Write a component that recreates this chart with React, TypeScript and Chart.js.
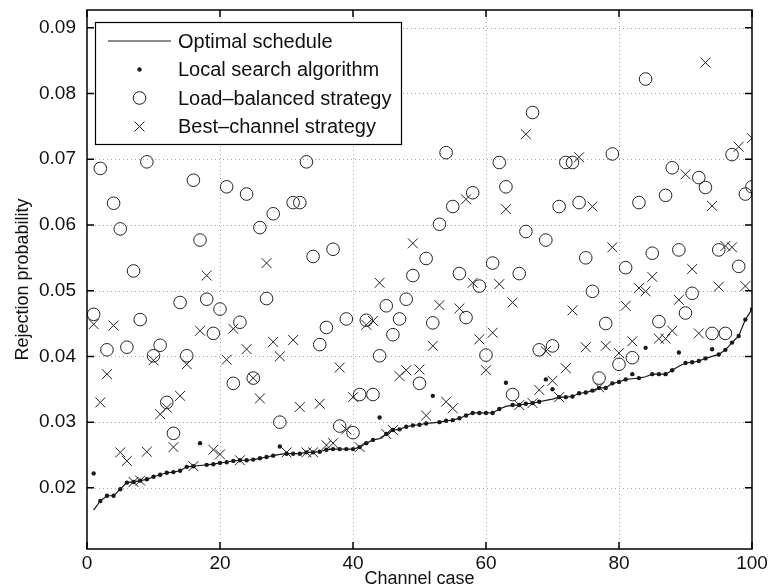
import React, { useEffect, useRef } from 'react';
import { Chart, registerables } from 'chart.js';

Chart.register(...registerables);

const CASES = [
  1, 2, 3, 4, 5, 6, 7, 8, 9, 10, 11, 12, 13, 14, 15, 16, 17, 18, 19, 20,
  21, 22, 23, 24, 25, 26, 27, 28, 29, 30, 31, 32, 33, 34, 35, 36, 37, 38, 39, 40,
  41, 42, 43, 44, 45, 46, 47, 48, 49, 50, 51, 52, 53, 54, 55, 56, 57, 58, 59, 60,
  61, 62, 63, 64, 65, 66, 67, 68, 69, 70, 71, 72, 73, 74, 75, 76, 77, 78, 79, 80,
  81, 82, 83, 84, 85, 86, 87, 88, 89, 90, 91, 92, 93, 94, 95, 96, 97, 98, 99, 100,
];

const OPTIMAL = [
  0.0166, 0.0180, 0.0188, 0.0188, 0.0198, 0.0208, 0.0209, 0.0211, 0.0213, 0.0217,
  0.0220, 0.0223, 0.0224, 0.0226, 0.0232, 0.0233, 0.0234, 0.0235, 0.0236, 0.0238,
  0.0239, 0.0241, 0.0242, 0.0242, 0.0243, 0.0245, 0.0247, 0.0249, 0.0251, 0.0252,
  0.0252, 0.0252, 0.0254, 0.0254, 0.0255, 0.0258, 0.0259, 0.0259, 0.0259, 0.0259,
  0.0262, 0.0268, 0.0273, 0.0275, 0.0282, 0.0288, 0.0289, 0.0293, 0.0295, 0.0296,
  0.0298, 0.0299, 0.0300, 0.0302, 0.0303, 0.0306, 0.0310, 0.0314, 0.0314, 0.0314,
  0.0314, 0.0320, 0.0324, 0.0326, 0.0326, 0.0328, 0.0329, 0.0331, 0.0333, 0.0335,
  0.0338, 0.0338, 0.0339, 0.0344, 0.0345, 0.0348, 0.0352, 0.0352, 0.0359, 0.0361,
  0.0365, 0.0366, 0.0367, 0.0369, 0.0373, 0.0373, 0.0373, 0.0379, 0.0385, 0.0390,
  0.0391, 0.0393, 0.0397, 0.0400, 0.0403, 0.0410, 0.0421, 0.0431, 0.0456, 0.0472,
];

const LOCAL = [
  0.0222, 0.0180, 0.0188, 0.0188, 0.0198, 0.0208, 0.0209, 0.0211, 0.0213, 0.0217,
  0.0220, 0.0223, 0.0224, 0.0226, 0.0232, 0.0233, 0.0268, 0.0235, 0.0236, 0.0238,
  0.0239, 0.0241, 0.0242, 0.0242, 0.0243, 0.0245, 0.0247, 0.0249, 0.0263, 0.0252,
  0.0252, 0.0252, 0.0254, 0.0254, 0.0255, 0.0258, 0.0259, 0.0259, 0.0259, 0.0259,
  0.0262, 0.0268, 0.0273, 0.0307, 0.0282, 0.0288, 0.0289, 0.0293, 0.0295, 0.0296,
  0.0298, 0.0340, 0.0300, 0.0302, 0.0303, 0.0306, 0.0310, 0.0314, 0.0314, 0.0314,
  0.0314, 0.0320, 0.0360, 0.0326, 0.0326, 0.0328, 0.0329, 0.0331, 0.0365, 0.0350,
  0.0338, 0.0338, 0.0339, 0.0344, 0.0345, 0.0348, 0.0352, 0.0352, 0.0359, 0.0361,
  0.0365, 0.0373, 0.0367, 0.0413, 0.0373, 0.0373, 0.0373, 0.0379, 0.0406, 0.0390,
  0.0391, 0.0393, 0.0397, 0.0411, 0.0403, 0.0410, 0.0421, 0.0431, 0.0456, 0.0472,
];

const LOAD_BALANCED = [
  0.0464, 0.0686, 0.0410, 0.0633, 0.0594, 0.0414, 0.0530, 0.0456, 0.0696, 0.0401,
  0.0417, 0.0330, 0.0283, 0.0482, 0.0401, 0.0668, 0.0577, 0.0487, 0.0435, 0.0472,
  0.0658, 0.0359, 0.0452, 0.0647, 0.0367, 0.0596, 0.0488, 0.0617, 0.0300, null,
  0.0634, 0.0634, 0.0696, 0.0552, 0.0418, 0.0444, 0.0563, 0.0294, 0.0457, 0.0284,
  0.0342, 0.0455, 0.0342, 0.0401, 0.0477, 0.0433, 0.0457, 0.0487, 0.0523, 0.0359,
  0.0549, 0.0451, 0.0601, 0.0710, 0.0628, 0.0526, 0.0459, 0.0649, 0.0507, 0.0402,
  0.0542, 0.0695, 0.0658, 0.0342, 0.0526, 0.0590, 0.0771, 0.0410, 0.0577, 0.0416,
  0.0628, 0.0695, 0.0695, 0.0634, 0.0550, 0.0499, 0.0367, 0.0450, 0.0708, 0.0388,
  0.0535, 0.0398, 0.0634, 0.0822, 0.0557, 0.0453, 0.0645, 0.0687, 0.0562, 0.0466,
  0.0496, 0.0672, 0.0657, 0.0435, 0.0562, 0.0435, 0.0707, 0.0537, 0.0647, 0.0658,
];

const BEST_CHANNEL = [
  0.0449, 0.0330, 0.0373, 0.0447, 0.0254, 0.0241, 0.0209, 0.0211, 0.0255, 0.0394,
  0.0312, 0.0322, 0.0262, 0.0340, 0.0388, 0.0233, 0.0439, 0.0523, 0.0258, 0.0251,
  0.0395, 0.0442, 0.0242, 0.0411, 0.0367, 0.0336, 0.0542, 0.0422, 0.0400, 0.0254,
  0.0425, 0.0323, 0.0254, 0.0254, 0.0328, 0.0265, 0.0268, 0.0383, 0.0289, 0.0338,
  0.0262, 0.0448, 0.0454, 0.0512, 0.0282, 0.0288, 0.0370, 0.0379, 0.0572, 0.0380,
  0.0310, 0.0416, 0.0478, 0.0331, 0.0321, 0.0473, 0.0639, 0.0512, 0.0426, 0.0379,
  0.0436, 0.0510, 0.0624, 0.0482, 0.0326, 0.0738, 0.0329, 0.0349, 0.0408, 0.0363,
  0.0338, 0.0382, 0.0470, 0.0703, 0.0414, 0.0628, 0.0353, 0.0416, 0.0566, 0.0405,
  0.0477, 0.0423, 0.0504, 0.0499, 0.0521, 0.0427, 0.0427, 0.0439, 0.0486, 0.0677,
  0.0533, 0.0435, 0.0847, 0.0629, 0.0506, 0.0568, 0.0566, 0.0719, 0.0507, 0.0732,
];

const X_TICKS = [0, 20, 40, 60, 80, 100];
const Y_TICKS = [0.02, 0.03, 0.04, 0.05, 0.06, 0.07, 0.08, 0.09];
const SERIES_NAMES = [
  'Optimal schedule',
  'Local search algorithm',
  'Load\u2013balanced strategy',
  'Best\u2013channel strategy',
];
const X_TITLE = 'Channel case';
const Y_TITLE = 'Rejection probability';

const FONT = '"Liberation Sans", Arial, Helvetica, sans-serif';
const INK = '#1a1a1a';
const CIRCLE_R = 6.3;
const CROSS_R = 7;
const DOT_R = 2.2;

const toPoints = (vals: (number | null)[]) =>
  CASES.map((c, i) => ({ x: c, y: vals[i] }));

function drawCircle(ctx: CanvasRenderingContext2D, x: number, y: number) {
  ctx.beginPath();
  ctx.arc(x, y, CIRCLE_R, 0, Math.PI * 2);
  ctx.stroke();
}
function drawCross(ctx: CanvasRenderingContext2D, x: number, y: number) {
  const d = CROSS_R * Math.SQRT1_2;
  ctx.beginPath();
  ctx.moveTo(x - d, y - d);
  ctx.lineTo(x + d, y + d);
  ctx.moveTo(x - d, y + d);
  ctx.lineTo(x + d, y - d);
  ctx.stroke();
}

const framePlugin = {
  id: 'matlabFrame',
  beforeDatasetsDraw(chart: any) {
    const { ctx, chartArea, scales } = chart;
    const { left, right, top, bottom } = chartArea;
    ctx.save();
    ctx.strokeStyle = '#a8a8a8';
    ctx.lineWidth = 1;
    ctx.setLineDash([1, 3]);
    X_TICKS.forEach((v) => {
      const px = Math.round(scales.x.getPixelForValue(v)) + 0.5;
      if (px > left + 2 && px < right - 2) {
        ctx.beginPath();
        ctx.moveTo(px, top);
        ctx.lineTo(px, bottom);
        ctx.stroke();
      }
    });
    Y_TICKS.forEach((v) => {
      const py = Math.round(scales.y.getPixelForValue(v)) + 0.5;
      if (py > top + 2 && py < bottom - 2) {
        ctx.beginPath();
        ctx.moveTo(left, py);
        ctx.lineTo(right, py);
        ctx.stroke();
      }
    });
    ctx.restore();
  },
  afterDatasetsDraw(chart: any) {
    const { ctx, chartArea, scales } = chart;
    const { left, right, top, bottom } = chartArea;
    ctx.save();
    ctx.setLineDash([]);
    ctx.strokeStyle = '#000';
    ctx.lineWidth = 1.5;
    ctx.strokeRect(left, top, right - left, bottom - top);
    const tl = 7;
    ctx.beginPath();
    X_TICKS.forEach((v) => {
      const px = scales.x.getPixelForValue(v);
      ctx.moveTo(px, bottom);
      ctx.lineTo(px, bottom - tl);
      ctx.moveTo(px, top);
      ctx.lineTo(px, top + tl);
    });
    Y_TICKS.forEach((v) => {
      const py = scales.y.getPixelForValue(v);
      ctx.moveTo(left, py);
      ctx.lineTo(left + tl, py);
      ctx.moveTo(right, py);
      ctx.lineTo(right - tl, py);
    });
    ctx.stroke();

    // legend box
    const bx = left + 8;
    const by = top + 12;
    const bw = 306;
    const bh = 122;
    ctx.fillStyle = '#fff';
    ctx.fillRect(bx, by, bw, bh);
    ctx.lineWidth = 1.2;
    ctx.strokeStyle = '#000';
    ctx.strokeRect(bx + 0.5, by + 0.5, bw, bh);

    const rows = [by + 19, by + 47.5, by + 76, by + 104.5];
    const sx0 = bx + 13;
    const sx1 = bx + 76;
    const sc = (sx0 + sx1) / 2;
    ctx.strokeStyle = INK;
    ctx.fillStyle = INK;
    ctx.lineWidth = 1.2;
    ctx.beginPath();
    ctx.moveTo(sx0, rows[0]);
    ctx.lineTo(sx1, rows[0]);
    ctx.stroke();
    ctx.beginPath();
    ctx.arc(sc, rows[1], DOT_R, 0, Math.PI * 2);
    ctx.fill();
    ctx.lineWidth = 1;
    drawCircle(ctx, sc, rows[2]);
    drawCross(ctx, sc, rows[3]);

    ctx.font = `20px ${FONT}`;
    ctx.fillStyle = '#111';
    ctx.textAlign = 'left';
    ctx.textBaseline = 'middle';
    SERIES_NAMES.forEach((name, i) => {
      ctx.fillText(name, bx + 83, rows[i] + 1);
    });
    ctx.restore();
  },
  afterDraw(chart: any) {
    const { ctx, chartArea } = chart;
    const { left, right, top, bottom } = chartArea;
    ctx.save();
    ctx.fillStyle = '#111';
    ctx.font = `18px ${FONT}`;
    ctx.textAlign = 'center';
    ctx.textBaseline = 'middle';
    ctx.fillText(X_TITLE, (left + right) / 2, bottom + 30);
    ctx.translate(23, (top + bottom) / 2);
    ctx.rotate(-Math.PI / 2);
    ctx.fillText(Y_TITLE, 0, 0);
    ctx.restore();
  },
};

export default function App() {
  const ref = useRef<HTMLCanvasElement | null>(null);

  useEffect(() => {
    document.body.style.margin = '0';
    const canvas = ref.current;
    if (!canvas) return;
    const chart = new Chart(canvas, {
      type: 'scatter',
      data: {
        datasets: [
          {
            label: SERIES_NAMES[0],
            data: toPoints(OPTIMAL),
            showLine: true,
            borderColor: INK,
            borderWidth: 1.2,
            pointRadius: 0,
            tension: 0,
          },
          {
            label: SERIES_NAMES[1],
            data: toPoints(LOCAL),
            pointStyle: 'circle',
            pointRadius: DOT_R,
            backgroundColor: INK,
            borderColor: INK,
            borderWidth: 0,
          },
          {
            label: SERIES_NAMES[2],
            data: toPoints(LOAD_BALANCED),
            pointStyle: 'circle',
            pointRadius: CIRCLE_R,
            backgroundColor: 'rgba(0,0,0,0)',
            borderColor: '#222',
            borderWidth: 1,
          },
          {
            label: SERIES_NAMES[3],
            data: toPoints(BEST_CHANNEL),
            pointStyle: 'crossRot',
            pointRadius: CROSS_R,
            backgroundColor: 'rgba(0,0,0,0)',
            borderColor: '#222',
            borderWidth: 1,
          },
        ],
      } as any,
      options: {
        responsive: false,
        animation: false,
        devicePixelRatio: 1,
        layout: { padding: { top: 10, right: 17, left: 0, bottom: 0 } },
        plugins: { legend: { display: false }, tooltip: { enabled: false } },
        scales: {
          x: {
            type: 'linear',
            min: 0,
            max: 100,
            afterBuildTicks: (s: any) => {
              s.ticks = X_TICKS.map((v) => ({ value: v }));
            },
            ticks: {
              font: { family: FONT, size: 19 },
              color: '#111',
              padding: 3,
              maxRotation: 0,
            },
            grid: { display: false, drawTicks: false },
            border: { display: false },
            afterFit: (s: any) => {
              s.height = 37;
              s.paddingLeft = 0;
              s.paddingRight = 0;
            },
          },
          y: {
            type: 'linear',
            min: 0.0107,
            max: 0.0927,
            afterBuildTicks: (s: any) => {
              s.ticks = Y_TICKS.map((v) => ({ value: v }));
            },
            ticks: {
              font: { family: FONT, size: 19 },
              color: '#111',
              padding: 11,
              callback: (v: any) => Number(v).toFixed(2),
            },
            grid: { display: false, drawTicks: false },
            border: { display: false },
            afterFit: (s: any) => {
              s.width = 87;
              s.paddingTop = 0;
              s.paddingBottom = 0;
            },
          },
        },
      } as any,
      plugins: [framePlugin],
    });
    return () => chart.destroy();
  }, []);

  return (
    <div style={{ position: 'absolute', left: 0, top: 0, width: 769, height: 586, background: '#fff' }}>
      <canvas ref={ref} width={769} height={586} style={{ width: 769, height: 586, display: 'block' }} />
    </div>
  );
}
